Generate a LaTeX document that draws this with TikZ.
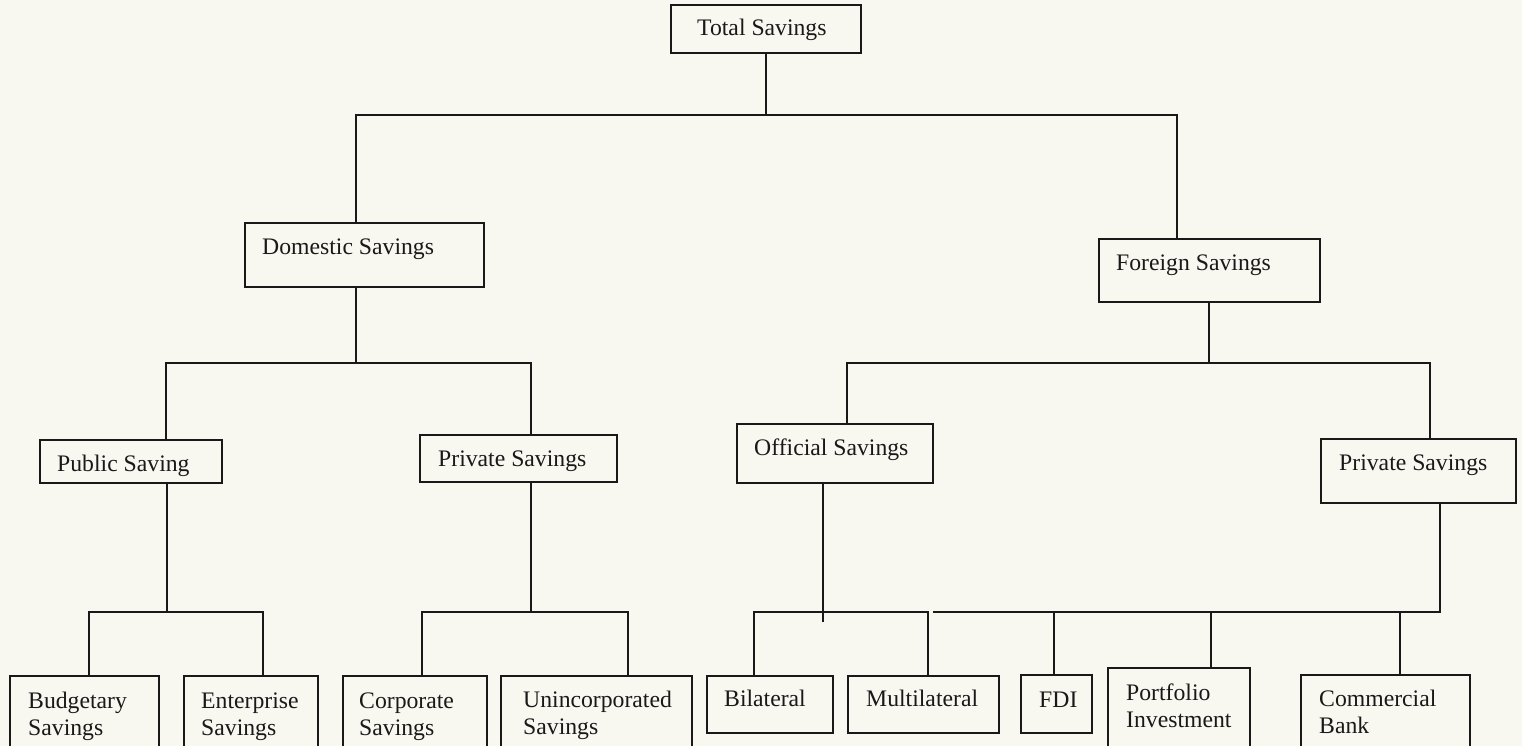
\documentclass[tikz,border=0pt]{standalone}
\usepackage{fontspec}
\setmainfont{Liberation Serif}
\definecolor{Paper}{RGB}{248, 247, 240}
\definecolor{Ink}{RGB}{25, 25, 25}
\usetikzlibrary{fit}

\begin{document}
\begin{tikzpicture}[
        x=1pt, y=-1pt,
        box/.style={rectangle, draw=Ink, line width=1.4pt, inner sep=0pt},
        txt/.style={anchor=base west, inner sep=0pt, align=left, text=Ink, font=\fontsize{23.7}{27}\selectfont},
        line/.style={draw=Ink, line width=1.4pt}
    ]
        \useasboundingbox (0,0) rectangle (1522,746);
        \clip (0,0) rectangle (1522,746);
        \fill [Paper] (0,0) rectangle (1522,746);

        \node [box, fit={(671,5) (861,53)}] (total) {};
        \node [txt] (total-t) at (697,36) {Total Savings};

        \node [box, fit={(245,223) (484,287)}] (dom) {};
        \node [txt] (dom-t) at (262,254) {Domestic Savings};
        \node [box, fit={(1099,239) (1320,302)}] (for) {};
        \node [txt] (for-t) at (1116,270) {Foreign Savings};

        \node [box, fit={(40,440) (222,483)}] (pub) {};
        \node [txt] (pub-t) at (57,471) {Public Saving};
        \node [box, fit={(420,435) (617,482)}] (prvd) {};
        \node [txt] (prvd-t) at (438,466) {Private Savings};
        \node [box, fit={(737,424) (933,483)}] (off) {};
        \node [txt] (off-t) at (754,455) {Official Savings};
        \node [box, fit={(1321,439) (1516,503)}] (prvf) {};
        \node [txt] (prvf-t) at (1339,470) {Private Savings};

        \node [box, fit={(10,676) (159,760)}] (budg) {};
        \node [txt] (budg-t) at (28,735) {Budgetary\\Savings};
        \node [box, fit={(184,676) (318,760)}] (ent) {};
        \node [txt] (ent-t) at (201,735) {Enterprise\\Savings};
        \node [box, fit={(343,676) (487,760)}] (corp) {};
        \node [txt] (corp-t) at (359,735) {Corporate\\Savings};
        \node [box, fit={(501,676) (692,760)}] (uninc) {};
        \node [txt] (uninc-t) at (523,734) {Unincorporated\\Savings};
        \node [box, fit={(707,676) (833,733)}] (bil) {};
        \node [txt] (bil-t) at (724,706) {Bilateral};
        \node [box, fit={(848,676) (999,733)}] (mul) {};
        \node [txt] (mul-t) at (866,706) {Multilateral};
        \node [box, fit={(1021,675) (1092,733)}] (fdi) {};
        \node [txt] (fdi-t) at (1039,707) {FDI};
        \node [box, fit={(1108,668) (1250,760)}] (port) {};
        \node [txt] (port-t) at (1126,727) {Portfolio\\Investment};
        \node [box, fit={(1301,675) (1470,760)}] (comm) {};
        \node [txt] (comm-t) at (1319,733) {Commercial\\Bank};

        \coordinate (tj) at (766,115);
        \coordinate (dj) at (356,363);
        \coordinate (fj) at (1209,363);
        \coordinate (pj) at (167,612);
        \coordinate (vj) at (531,612);
        \coordinate (oj) at (823,612);
        \coordinate (rj) at (1440,612);
        \coordinate (rl) at (933,612);

        \path [line] (total) -- (tj);
        \path [line] (tj) -| ([xshift=-8.5pt]dom.north);
        \path [line] (tj) -| ([xshift=-32.5pt]for.north);

        \path [line] (dom.south -| dj) -- (dj);
        \path [line] (dj) -| ([xshift=35pt]pub.north);
        \path [line] (dj) -| ([xshift=12.5pt]prvd.north);
        \path [line] (for.south -| fj) -- (fj);
        \path [line] (fj) -| ([xshift=12pt]off.north);
        \path [line] (fj) -| ([xshift=11.5pt]prvf.north);

        \path [line] (pub.south -| pj) -- (pj);
        \path [line] (pj) -| ([xshift=4.5pt]budg.north);
        \path [line] (pj) -| ([xshift=12pt]ent.north);
        \path [line] (prvd.south -| vj) -- (vj);
        \path [line] (vj) -| ([xshift=7pt]corp.north);
        \path [line] (vj) -| ([xshift=31.5pt]uninc.north);

        \path [line] (off.south -| oj) -- ([yshift=-10pt]oj);
        \path [line] (oj) -| ([xshift=-16pt]bil.north);
        \path [line] (oj) -| ([xshift=4.5pt]mul.north);

        \path [line] (prvf.south -| rj) -- (rj) -- (rl);
        \path [line] (rj) -| ([xshift=-2.5pt]fdi.north);
        \path [line] (rj) -| ([xshift=32pt]port.north);
        \path [line] (rj) -| ([xshift=14.5pt]comm.north);
    \end{tikzpicture}
\end{document}
